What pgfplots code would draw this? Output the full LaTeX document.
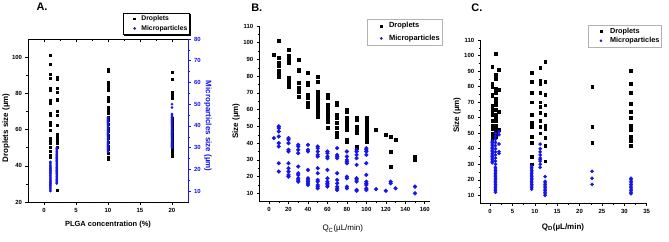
\documentclass[border=0pt]{standalone}
\usepackage{pgfplots}
\pgfplotsset{compat=1.18}
\usepackage{fontspec}
\setmainfont{Liberation Sans}
\definecolor{myblue}{RGB}{20,20,235}
\begin{document}
\begin{tikzpicture}
\useasboundingbox[fill=white] (0,0) rectangle (669bp,242bp);
\pgfplotsset{
 common/.style={scale only axis, anchor=south west,
  tick align=outside, major tick length=2.5bp, minor tick length=1.5bp,
  axis line style={line width=0.6bp,-}, tick style={line width=0.5bp, black},
  /pgf/number format/assume math mode=true,
  ticklabel style={font=\fontsize{6}{7}\selectfont\bfseries},
  legend cell align=left,
  every axis title/.style={anchor=center, font=\fontsize{11}{12}\selectfont\bfseries},
 },
}
% ---------------- Panel A ----------------
\begin{axis}[common, at={(28bp,40bp)}, width=160bp, height=163bp,
 xmin=-2.5, xmax=22.5, ymin=20, ymax=110,
 xtick={0,5,10,15,20}, ytick={20,40,60,80,100},
 minor x tick num=1, minor y tick num=1,
 xtick pos=bottom, ytick pos=left,
 xlabel={PLGA concentration (\%)}, ylabel={Droplets size (µm)},
 xlabel style={at={(axis description cs:0.5,-0.138)}, anchor=center, font=\fontsize{7.5}{9}\selectfont\bfseries},
 ylabel style={at={(axis description cs:-0.1375,0.455)}, anchor=center, font=\fontsize{8}{9}\selectfont\bfseries},
 title={A.}, title style={at={(axis description cs:0.0875,1.2)}},
 legend image code/.code={\path[draw=none,fill=none] (-10bp,0) -- (6bp,0); \draw[#1] plot coordinates {(0bp,0bp)};},
 legend style={name=legA, at={(1.0125,1.16)}, anchor=north east, draw=black, line width=0.6bp,
   font=\fontsize{6.8}{7.5}\selectfont\bfseries, inner xsep=1.5bp, inner ysep=0.8bp, row sep=0.3bp,
   nodes={inner xsep=0.8bp, inner ysep=1.5bp}},
]
\addplot[only marks, mark=square*, mark size=1bp, black, forget plot] coordinates {
(1,101)(1,96)(1,90.3)(1,88.4)(1,83)(1,82)(1,76)(1,74.6)(1,69.3)(1,67.8)(1,64)(1,62.3)(1,59.6)(1,55)(1,53.5)(1,52.2)(1,50.3)(1,48)(1,46)(1,44.5)
(2,89)(2,88)(2,83)(2,80.5)(2,77)(2,76)(2,70)(2,68)(2,62.3)(2,57.2)(2,55.9)(2,54)(2,52.2)(2,50.3)(2,26.5)
(10,93.2)(10,92.1)(10,86.2)(10,84.8)(10,83.3)(10,81.6)(10,77.9)(10,76.7)(10,75.6)(10,72.4)(10,71.5)(10,70)(10,68.8)(10,67)(10,65)(10,63)(10,61)(10,59)(10,57)(10,55)(10,53)(10,51)(10,49)(10,46.7)(10,44.8)(10,43.5)
(20,91.4)(20,88)(20,80.5)(20,78.9)(20,77.4)(20,66)(20,64.5)(20,63)(20,61.5)(20,60)(20,58.5)(20,57)(20,55.5)(20,54)(20,52.5)(20,51)(20,49.5)(20,48)(20,46.5)(20,45.5)
};
\addlegendimage{only marks, mark=square*, mark size=0.9bp, black}
\addlegendentry{Droplets}
\addlegendimage{only marks, mark=*, mark size=1bp, myblue}
\addlegendentry{Microparticles}
\end{axis}
\fill[black] ([xshift=1.4bp,yshift=-1.4bp]legA.south west) rectangle ([xshift=1.4bp]legA.south east);
\fill[black] ([yshift=-1.4bp]legA.north east) rectangle ([xshift=1.4bp,yshift=-1.4bp]legA.south east);
\begin{axis}[common, at={(28bp,40bp)}, width=160bp, height=163bp,
 xmin=-2.5, xmax=22.5, ymin=5, ymax=80,
 axis x line=none, axis y line*=right,
 ytick={10,20,...,80}, minor y tick num=1,
 y axis line style={myblue, line width=0.6bp}, ytick style={myblue},
 yticklabel style={myblue},
 ylabel={Microparticles size (µm)},
 ylabel style={at={(axis description cs:1.125,0.465)}, anchor=center, rotate=180, myblue, font=\fontsize{8}{9}\selectfont\bfseries},
]
\addplot[only marks, mark=*, mark size=1.1bp, myblue] coordinates {
(1,10)(1,10.5)(1,11)(1,11.5)(1,12)(1,12.5)(1,13)(1,13.5)(1,14)(1,14.5)(1,15)(1,15.5)(1,16)(1,16.5)(1,17)(1,17.5)(1,18)(1,18.5)(1,19)(1,19.5)(1,20)(1,20.5)(1,21)(1,21.5)(1,22)(1,22.5)(1,23)(1,23.5)
(2,13.5)(2,14)(2,14.5)(2,15)(2,15.5)(2,16)(2,16.5)(2,17)(2,17.5)(2,18)(2,18.5)(2,19)(2,19.5)(2,20)(2,20.5)(2,21)(2,21.5)(2,22)(2,22.5)(2,23)(2,23.5)(2,24)(2,24.5)(2,25)(2,25.5)(2,26)(2,26.5)(2,27)(2,27.5)(2,28)(2,28.5)(2,29)(2,29.5)(2,30)
(10,28)(10,28.5)(10,29)(10,29.5)(10,30)(10,30.5)(10,31)(10,31.5)(10,32)(10,32.5)(10,33)(10,33.5)(10,34)(10,34.5)(10,35)(10,35.5)(10,36)(10,36.5)(10,37)(10,37.5)(10,38)(10,38.5)(10,39)(10,39.5)(10,40)(10,40.5)(10,41)(10,41.5)(10,42)(10,42.5)(10,43)(10,43.5)(10,44)
(20,30)(20,30.5)(20,31)(20,31.5)(20,32)(20,32.5)(20,33)(20,33.5)(20,34)(20,34.5)(20,35)(20,35.5)(20,36)(20,36.5)(20,37)(20,37.5)(20,38)(20,38.5)(20,39)(20,39.5)(20,40)(20,40.5)(20,41)(20,41.5)(20,42)(20,42.5)(20,43)(20,43.5)(20,44)(20,44.5)(20,45)(20,45.5)(20,48.5)(20,50)
};
\end{axis}
\begin{axis}[common, at={(28bp,40bp)}, width=160bp, height=163bp,
 xmin=-2.5, xmax=22.5, ymin=20, ymax=110,
 xtick={0,5,10,15,20}, minor x tick num=1, ytick=\empty,
 xtick pos=top, tick align=inside, xticklabels={},
 axis line style={draw=none},
]
\end{axis}
% ---------------- Panel B ----------------
\begin{axis}[common, at={(259.3bp,40.3bp)}, width=170.3bp, height=175.7bp,
 xmin=-10, xmax=165, ymin=5, ymax=110,
 axis x line*=bottom, axis y line*=left,
 x axis line style={-}, y axis line style={-},
 xtick={0,20,...,160}, ytick={10,20,...,110},
 minor x tick num=1, minor y tick num=1,
 xtick pos=bottom, ytick pos=left,
 xlabel={Q\textsubscript{C}(µL/min)}, ylabel={Size (µm)},
 xlabel style={at={(axis description cs:0.49,-0.155)}, anchor=center, font=\fontsize{8}{9}\selectfont},
 ylabel style={at={(axis description cs:-0.137,0.459)}, anchor=center, font=\fontsize{8}{9}\selectfont\bfseries},
 title={B.}, title style={at={(axis description cs:-0.015,1.105)}},
 legend image code/.code={\path[draw=none,fill=none] (-12bp,0) -- (7bp,0); \draw[#1] plot coordinates {(0bp,0bp)};},
 legend style={at={(1.077,1.038)}, anchor=north east, draw=gray!60, line width=0.4bp,
   font=\fontsize{7.5}{8.5}\selectfont\bfseries, inner xsep=2bp, inner ysep=1bp, row sep=1.5bp,
   nodes={inner xsep=0.8bp, inner ysep=2bp}},
]
\addplot[only marks, mark=square*, mark size=1.5bp, black, forget plot] coordinates {
(5,93)
(10,101)(10,91)(10,88)(10,86)(10,83)(10,81)(10,80)
(20,96)(20,92)(20,90)(20,88)(20,79)(20,77)(20,75)(20,74)
(30,90)(30,84)(30,83)(30,76)(30,73)(30,71)(30,68)
(40,82)(40,76)(40,75)(40,69)(40,67)(40,64)(40,62)
(50,80)(50,77)(50,71)(50,70)(50,68)(50,66)(50,64)(50,62)(50,60)(50,58)(50,56)
(60,69)(60,67)(60,63)(60,61)(60,59)(60,57)(60,55)(60,53)(60,49)
(70,64)(70,63)(70,57)(70,55)(70,52)(70,49)(70,46)(70,44)
(80,60)(80,59)(80,55)(80,53)(80,51)(80,50)(80,48)(80,42)(80,41)
(90,55)(90,54)(90,50)(90,48)(90,47)(90,46)(90,38)(90,37)
(100,55)(100,54)(100,53)(100,52)(100,51)(100,50)(100,49)(100,48)(100,47)(100,46)(100,45)(100,44)(100,43)(100,42)(100,41)
(110,48)(120,45)(125,44)(125,35)(125,26)(130,42)(150,32)(150,31)(150,30)
};
\addplot[only marks, mark=*, mark size=1.9bp, myblue, forget plot] coordinates {
(5,43)
(10,50)(10,49)(10,47)(10,44)(10,40)(10,38)(10,28)(10,23)
(20,43)(20,42)(20,40)(20,36)(20,35)(20,28)(20,25)(20,23)(20,21)(20,20)
(30,39)(30,38)(30,36)(30,34)(30,26)(30,22)(30,21)(30,19)(30,18)(30,17)
(40,39)(40,36)(40,35)(40,24)(40,19)(40,18)(40,17)(40,16)(40,15)
(50,38)(50,37)(50,35)(50,33)(50,32)(50,25)(50,22)(50,18)(50,17)(50,15)(50,14)(50,13)
(60,35)(60,34)(60,32)(60,31)(60,24)(60,19)(60,17)(60,16)(60,15)(60,14)
(70,37)(70,33)(70,32)(70,31)(70,22)(70,18)(70,16)(70,14)(70,13)(70,12)
(80,35)(80,32)(80,30)(80,29)(80,28)(80,20)(80,19)(80,14)(80,13)
(90,36)(90,35)(90,33)(90,31)(90,27)(90,19)(90,18)(90,17)(90,12)(90,11.5)
(100,37)(100,36)(100,35)(100,33)(100,28)(100,21)(100,17)(100,16)(100,15)(100,13)(100,12)
(110,12.5)(120,11.5)(125,17)(125,16)(130,13)(150,14)(150,10)
};
\addlegendimage{only marks, mark=square*, mark size=1bp, black}
\addlegendentry{Droplets}
\addlegendimage{only marks, mark=*, mark size=1.1bp, myblue}
\addlegendentry{Microparticles}
\end{axis}
% ---------------- Panel C ----------------
\begin{axis}[common, at={(480.2bp,38.9bp)}, width=166.5bp, height=163.1bp,
 xmin=-2.2, xmax=35, ymin=5, ymax=110,
 axis x line*=bottom, axis y line*=left,
 x axis line style={-}, y axis line style={-},
 xtick={0,5,...,35}, ytick={10,20,...,110},
 minor x tick num=1, minor y tick num=1,
 xtick pos=bottom, ytick pos=left,
 xlabel={Q\textsubscript{D}(µL/min)}, ylabel={Size (µm)},
 xlabel style={at={(axis description cs:0.497,-0.147)}, anchor=center, font=\fontsize{8}{9}\selectfont\bfseries},
 ylabel style={at={(axis description cs:-0.139,0.54)}, anchor=center, font=\fontsize{8}{9}\selectfont\bfseries},
 title={C.}, title style={at={(axis description cs:-0.02,1.199)}},
 legend image code/.code={\path[draw=none,fill=none] (-11bp,0) -- (8.5bp,0); \draw[#1] plot coordinates {(0bp,0bp)};},
 legend style={at={(1.09,1.092)}, anchor=north east, draw=gray!60, line width=0.4bp,
   font=\fontsize{7.3}{8.5}\selectfont\bfseries, inner xsep=1.5bp, inner ysep=1.2bp, row sep=0bp,
   nodes={inner xsep=0.6bp, inner ysep=1.4bp}},
]
\addplot[only marks, mark=square*, mark size=1.4bp, black, forget plot] coordinates {
(0.5,93)(0.5,82)(0.5,80)(0.5,75)(0.5,74)(0.5,68)(0.5,66)(0.5,64)(0.5,62)(0.5,58)(0.5,55)(0.5,53)(0.5,50)(0.5,48)(0.5,46)
(1.2,101)(1.2,88)(1.2,87)(1.2,85)(1.2,79)(1.2,78)(1.2,76)(1.2,72)(1.2,70)(1.2,68)(1.2,65)(1.2,62)(1.2,60)(1.2,58)(1.2,55)(1.2,52)(1.2,50)(1.2,48)
(2,91)(2,78)(2,64)(2,52)
(9.3,89)(9.3,83)(9.3,76)(9.3,70)(9.3,62)(9.3,57)(9.3,54)(9.3,48)(9.3,44)(9.3,35)(9.3,30)
(11.2,92)(11.2,84)(11.2,82)(11.2,76)(11.2,70)(11.2,67)(11.2,63)(11.2,58)(11.2,54)(11.2,50)
(12.3,96)(12.3,83)(12.3,75)(12.3,68)(12.3,62)(12.3,55)(12.3,53)(12.3,47)(12.3,42)(12.3,32)
(22.8,80)(22.8,54)(22.8,44)
(31.5,90)(31.5,82)(31.5,76)(31.5,69)(31.5,64)(31.5,60)(31.5,55)(31.5,52)(31.5,48)(31.5,45)(31.5,42)
};
\addplot[only marks, mark=*, mark size=1.6bp, myblue, forget plot] coordinates {
(0.5,45)(0.5,44)(0.5,43)(0.5,42)(0.5,41)(0.5,40)(0.5,39)(0.5,38)(0.5,37)(0.5,36)(0.5,35)(0.5,34)(0.5,33)(0.5,32)(0.5,31)
(1.2,50)(1.2,48)(1.2,46)(1.2,44)(1.2,42)(1.2,40)(1.2,38)(1.2,36)(1.2,34)(1.2,32)(1.2,30)(1.2,28)(1.2,27)(1.2,26)(1.2,25)(1.2,24)(1.2,23)(1.2,22)(1.2,21)(1.2,20)(1.2,19)(1.2,18)(1.2,17)(1.2,16)(1.2,15)(1.2,14)(1.2,13)(1.2,12)
(2,51)(2,49)(2,43)(2,38)(2,37)
(9.3,29)(9.3,28)(9.3,27)(9.3,26)(9.3,25)(9.3,24)(9.3,23)(9.3,22)(9.3,21)(9.3,20)(9.3,19)(9.3,18)(9.3,17)(9.3,16)(9.3,15)(9.3,14)
(11.2,43)(11.2,40)(11.2,38)(11.2,36)(11.2,34)(11.2,33)(11.2,32)(11.2,30)(11.2,28)
(12.3,22)(12.3,19)(12.3,18)(12.3,17)(12.3,16)(12.3,15)(12.3,14)(12.3,13)(12.3,12)(12.3,11)(12.3,10)
(22.8,25.5)(22.8,21)(22.8,17)
(31.5,21)(31.5,20)(31.5,19)(31.5,18)(31.5,17)(31.5,16)(31.5,15)(31.5,14)(31.5,13)(31.5,12)(31.5,11)
};
\addlegendimage{only marks, mark=square*, mark size=1bp, black}
\addlegendentry{Droplets}
\addlegendimage{only marks, mark=*, mark size=1.1bp, myblue}
\addlegendentry{Microparticles}
\end{axis}
\end{tikzpicture}
\end{document}
